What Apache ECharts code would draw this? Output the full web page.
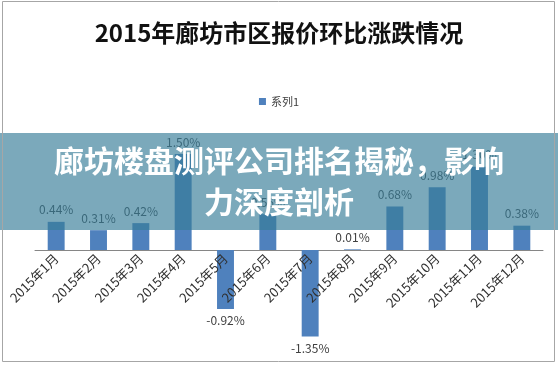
<!DOCTYPE html>
<html>
<head>
<meta charset="utf-8">
<script src="https://cdn.jsdelivr.net/npm/echarts@6/dist/echarts.min.js"></script>
<style>
html,body{margin:0;padding:0;background:#fff;}
#c{width:558px;height:365px;}
</style>
</head>
<body>
<div id="c"></div>
<script>
const titleText = '2015年廊坊市区报价环比涨跌情况';
const seriesName = '系列1';
const categories = ['2015年1月','2015年2月','2015年3月','2015年4月','2015年5月','2015年6月','2015年7月','2015年8月','2015年9月','2015年10月','2015年11月','2015年12月'];
const values = [0.44, 0.31, 0.42, 1.50, -0.92, 0.56, -1.35, 0.01, 0.68, 0.98, 1.30, 0.38];
const bannerLines = ['廊坊楼盘测评公司排名揭秘，影响', '力深度剖析'];

const font = '"Noto Sans CJK SC", "Noto Sans", sans-serif';
const chart = echarts.init(document.getElementById('c'), null, {renderer: 'canvas'});

const data = values.map(v => ({
  value: v,
  label: {position: v >= 0 ? 'top' : 'bottom'}
}));

const Y_MIN = -1.5, Y_MAX = 2;
const GRID_TOP = 122, GRID_BOTTOM = 19, H = 365;
const plotH = H - GRID_TOP - GRID_BOTTOM;
// distance from grid bottom up to the zero line
const zeroOffset = plotH * (0 - Y_MIN) / (Y_MAX - Y_MIN);

chart.setOption({
  animation: false,
  backgroundColor: '#ffffff',
  textStyle: {fontFamily: font},
  title: {
    text: titleText,
    left: 'center',
    top: 16,
    textStyle: {fontSize: 24, fontWeight: 'bold', color: '#111111', fontFamily: font}
  },
  legend: {
    data: [seriesName],
    top: 91,
    left: 'center',
    icon: 'rect',
    itemWidth: 7,
    itemHeight: 7,
    itemGap: 4,
    textStyle: {fontSize: 11, color: '#404040', fontFamily: font}
  },
  grid: {left: 35, right: 15, top: GRID_TOP, bottom: GRID_BOTTOM, containLabel: false, outerBoundsMode: 'none'},
  xAxis: [{
    type: 'category',
    data: categories,
    axisLine: {onZero: true, lineStyle: {color: '#868686', width: 1}},
    axisTick: {show: false},
    axisLabel: {show: false}
  }, {
    type: 'category',
    data: categories,
    position: 'bottom',
    offset: -zeroOffset,
    z: 10,
    axisLine: {show: false, onZero: false},
    axisTick: {show: false},
    axisLabel: {interval: 0, rotate: 45, fontSize: 13, color: '#303030', margin: 6, fontFamily: font}
  }],
  yAxis: {
    type: 'value',
    min: Y_MIN,
    max: Y_MAX,
    axisLine: {show: false},
    axisTick: {show: false},
    axisLabel: {show: false},
    splitLine: {show: false}
  },
  series: [{
    name: seriesName,
    type: 'bar',
    data: data,
    barWidth: '40%',
    itemStyle: {color: '#4f81bd'},
    label: {
      show: true,
      distance: 6,
      fontSize: 12,
      color: '#404040',
      fontFamily: font,
      formatter: p => p.value.toFixed(2) + '%'
    }
  }],
  graphic: [
    {
      type: 'rect',
      z: 100,
      shape: {x: 0, y: 133, width: 558, height: 97},
      style: {fill: 'rgba(54,124,152,0.66)'}
    },
    {
      type: 'text',
      z: 101,
      x: 279, y: 161,
      style: {text: bannerLines[0], fill: '#ffffff', font: 'bold 30px ' + font, textAlign: 'center', textVerticalAlign: 'middle'}
    },
    {
      type: 'text',
      z: 101,
      x: 279, y: 202,
      style: {text: bannerLines[1], fill: '#ffffff', font: 'bold 30px ' + font, textAlign: 'center', textVerticalAlign: 'middle'}
    },
    {
      type: 'rect',
      z: 102,
      shape: {x: 2.5, y: 1.5, width: 552, height: 360},
      style: {fill: 'none', stroke: '#a6a6a6', lineWidth: 1}
    }
  ]
});
</script>
</body>
</html>
